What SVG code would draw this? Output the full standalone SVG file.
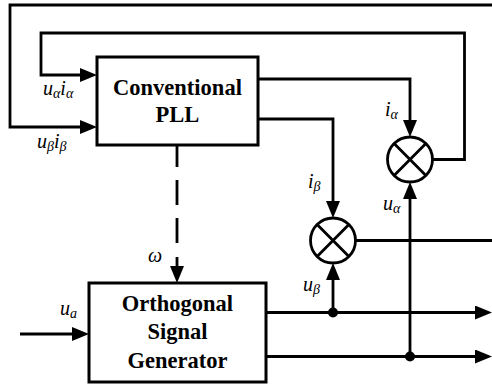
<svg xmlns="http://www.w3.org/2000/svg" width="492" height="384" viewBox="0 0 492 384">
<style>
.ln{fill:none;stroke:#000;stroke-width:2.8}
.arr{marker-end:url(#ah)}
.box{fill:#fff;stroke:#000;stroke-width:3}
.mul{fill:#fff;stroke:#000;stroke-width:2.8}
.bt{font-family:"Liberation Serif","Times New Roman",serif;font-weight:bold;font-size:22.5px;text-anchor:middle;fill:#000}
.it{font-family:"Liberation Serif","Times New Roman",serif;font-style:italic;font-size:20px;fill:#000}
.sb{font-size:14px}
</style>
<defs>
<marker id="ah" viewBox="0 0 17 14" refX="12" refY="7" markerWidth="17" markerHeight="14" markerUnits="userSpaceOnUse" orient="auto">
<path d="M0,0 L17,7 L0,14 Z" fill="#000"/>
</marker>
</defs>
<g id="connectors">
<polyline class="ln arr" points="492,5 10,5 10,127 92,127"/>
<polyline class="ln arr" points="432,159.5 464.5,159.5 464.5,33 41,33 41,75 92,75"/>
<polyline class="ln arr" points="258,79 410,79 410,132"/>
<polyline class="ln arr" points="258,119 333,119 333,213"/>
<line class="ln" x1="355" y1="240.5" x2="492" y2="240.5"/>
<line class="ln arr" x1="177" y1="145" x2="177" y2="278" stroke-dasharray="22 13 25 13 25 14 30"/>
<line class="ln arr" x1="20" y1="334" x2="84" y2="334"/>
<line class="ln arr" x1="266" y1="312.5" x2="487" y2="312.5"/>
<line class="ln arr" x1="266" y1="356.5" x2="487" y2="356.5"/>
<line class="ln arr" x1="333" y1="312.5" x2="333" y2="268"/>
<line class="ln arr" x1="410" y1="356.5" x2="410" y2="187"/>
<circle cx="333" cy="312.5" r="5" fill="#000"/>
<circle cx="410" cy="356.5" r="5" fill="#000"/>
</g>
<g id="pll">
<rect class="box" x="97" y="57" width="161" height="88"/>
<text class="bt" x="177.5" y="95">Conventional</text>
<text class="bt" x="177.5" y="122">PLL</text>
</g>
<g id="osg">
<rect class="box" x="89" y="283" width="177" height="99"/>
<text class="bt" x="177.5" y="311">Orthogonal</text>
<text class="bt" x="177.5" y="339">Signal</text>
<text class="bt" x="177.5" y="368">Generator</text>
</g>
<g id="mult-alpha">
<circle class="mul" cx="410" cy="159.5" r="22.5"/>
<path class="ln" d="M394.1,143.6 L425.9,175.4 M425.9,143.6 L394.1,175.4"/>
</g>
<g id="mult-beta">
<circle class="mul" cx="333" cy="240.5" r="22.5"/>
<path class="ln" d="M317.1,224.6 L348.9,256.4 M348.9,224.6 L317.1,256.4"/>
</g>
<g id="labels">
<text class="it" x="43" y="95">u<tspan class="sb" dy="3">α</tspan><tspan dy="-3">i</tspan><tspan class="sb" dy="3">α</tspan></text>
<text class="it" x="37" y="148">u<tspan class="sb" dy="3">β</tspan><tspan dy="-3">i</tspan><tspan class="sb" dy="3">β</tspan></text>
<text class="it" x="385" y="116">i<tspan class="sb" dy="3">α</tspan></text>
<text class="it" x="308" y="188">i<tspan class="sb" dy="3">β</tspan></text>
<text class="it" x="148" y="262">ω</text>
<text class="it" x="60" y="315">u<tspan class="sb" dy="3">a</tspan></text>
<text class="it" x="303" y="291">u<tspan class="sb" dy="3">β</tspan></text>
<text class="it" x="383" y="210">u<tspan class="sb" dy="3">α</tspan></text>
</g>
</svg>
